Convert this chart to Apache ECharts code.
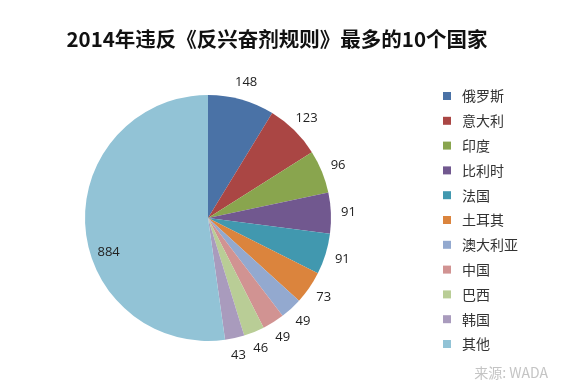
<!DOCTYPE html>
<html>
<head>
<meta charset="utf-8">
<script src="https://cdn.jsdelivr.net/npm/echarts@6/dist/echarts.min.js"></script>
<style>html,body{margin:0;padding:0;background:#fff}#c{width:577px;height:390px}</style>
</head>
<body>
<div id="c"></div>
<script>
const countries = ['俄罗斯','意大利','印度','比利时','法国','土耳其','澳大利亚','中国','巴西','韩国','其他'];
const violations = [148,123,96,91,91,73,49,49,46,43,884];
const colors = ['#4a72a6','#aa4644','#89a54e','#71588f','#4198af','#db843d','#93a9cf','#d19392','#b9cd96','#a99bbd','#92c3d6'];
const titleText = '2014年违反《反兴奋剂规则》最多的10个国家';
const sourceText = '来源: WADA';

const chart = echarts.init(document.getElementById('c'), null, {renderer:'canvas'});
const lastIdx = violations.length - 1;
const mainData = countries.map((n,i)=>({
  name:n, value:violations[i],
  itemStyle:{color:colors[i]},
  label: i===lastIdx ? {show:true, position:'inside'} : {show:false}
}));
const labelData = countries.map((n,i)=>({
  name:n, value:violations[i],
  label:{show: i!==lastIdx}
}));
chart.setOption({
  backgroundColor:'#fff',
  animation:false,
  title:[
    {text:titleText, left:272, top:24, textAlign:'center',
     textStyle:{fontFamily:'Noto Sans CJK SC', fontSize:20.5, fontWeight:'bold', color:'#111'}},
    {text:sourceText, right:24, top:361,
     textStyle:{fontFamily:'Noto Sans CJK SC', fontSize:14, fontWeight:'normal', color:'#c4c4c4'}}
  ],
  legend:{
    orient:'vertical', left:438, top:84,
    itemWidth:8, itemHeight:8, itemGap:10.8, icon:'rect',
    textStyle:{fontFamily:'Noto Sans CJK SC', fontSize:14, color:'#333', padding:[0,0,0,6]},
    data:countries
  },
  series:[
    {
      type:'pie', center:[208,218], radius:123, startAngle:90, clockwise:true,
      silent:true, labelLine:{show:false},
      label:{formatter:'{c}', color:'#222', fontFamily:'Open Sans', fontSize:13},
      labelLayout:function(p){ return p.dataIndex===lastIdx ? {dx:-35, dy:30} : {}; },
      data:mainData
    },
    {
      type:'pie', center:[208,218], radius:[124,151], startAngle:90, clockwise:true,
      silent:true, legendHoverLink:false,
      itemStyle:{color:'rgba(0,0,0,0)'},
      label:{position:'inside', formatter:'{c}', color:'#222', fontFamily:'Open Sans', fontSize:13},
      labelLine:{show:false},
      data:labelData
    }
  ]
});
</script>
</body>
</html>
